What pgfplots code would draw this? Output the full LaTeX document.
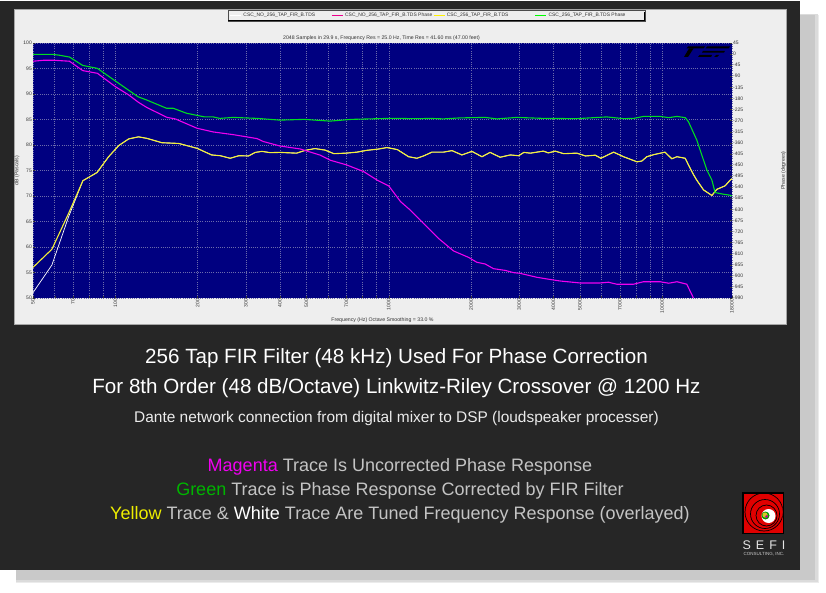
\documentclass[border=0pt]{standalone}
\usepackage{fontspec}
\setmainfont{Liberation Sans}
\usepackage{pgfplots}
\usepackage{pgfplotstable}
\pgfplotsset{compat=1.18}

\definecolor{panel}{HTML}{262626}
\definecolor{plotbg}{HTML}{000080}
\definecolor{page}{HTML}{EEEEEE}
\definecolor{gridc}{HTML}{6C6CAC}
\definecolor{labc}{HTML}{333333}
\definecolor{capc}{HTML}{C4C4C4}
\definecolor{tmag}{HTML}{F000F0}
\definecolor{tgrn}{HTML}{00B400}
\definecolor{tyel}{HTML}{EEEE00}
\definecolor{tryel}{HTML}{F4F038}
\definecolor{trgrn}{HTML}{00DC20}

% frequency response (dB), the two traces coincide above about 70 Hz
\pgfplotstableread{
f y w
50 56.0 51.05
58.6 59.55 56.45
67.5 66.6 65.95
76.1 73.0 73.0
85.7 74.6 74.6
94.5 77.7 77.7
103 79.9 79.9
112 81.2 81.2
121.6 81.6 81.6
130.5 81.3 81.3
148 80.45 80.45
170.7 80.3 80.3
199 79.35 79.35
225 78.05 78.05
242 77.9 77.9
263 77.4 77.4
283 77.9 77.9
307 77.85 77.85
325 78.55 78.55
344 78.75 78.75
368 78.5 78.5
400 78.55 78.55
460 78.4 78.4
495 78.95 78.95
537 79.3 79.3
585 79.0 79.0
630 78.3 78.3
697 78.4 78.4
765 78.6 78.6
830 78.95 78.95
915 79.2 79.2
985 79.5 79.5
1075 79.1 79.1
1182 77.7 77.7
1267 77.4 77.4
1340 77.85 77.85
1438 78.6 78.6
1586 78.6 78.6
1703 78.9 78.9
1851 78.05 78.05
2014 78.75 78.75
2192 77.7 77.7
2347 78.55 78.55
2554 77.6 77.6
2783 78.05 78.05
2985 77.9 77.9
3120 78.55 78.55
3295 78.4 78.4
3678 78.8 78.8
3835 78.45 78.45
4060 78.8 78.8
4360 78.3 78.3
4877 78.4 78.4
5240 77.85 77.85
5690 78.0 78.0
5967 77.4 77.4
6640 78.6 78.6
7224 77.7 77.7
8090 76.7 76.7
8420 76.85 76.85
8780 77.7 77.7
9300 78.1 78.1
10240 78.6 78.6
10840 77.3 77.3
11321 77.7 77.7
12136 77.4 77.4
12470 76.1 76.1
13010 74.2 74.2
13380 73.1 73.1
14160 71.2 71.2
15190 70.1 70.1
15830 71.3 71.3
16990 72.0 72.0
17720 73.1 73.1
18000 73.4 73.4
}\tdsdb

% phase traces (degrees)
\pgfplotstableread{
f p
50 -29
54.7 -25
59.5 -25
68 -29
76 -67
86 -78
100 -132
112 -166
121.6 -196
130.5 -217
154.6 -257
165.6 -263
199 -301
228 -316
270 -327
330 -343
348 -355
400 -373
474 -385
561 -410
612 -431
702 -450
810 -477
905 -511
1000 -535
1105 -599
1198 -633
1321 -680
1520 -748
1725 -799
1957 -825
2100 -845
2252 -852
2416 -871
2666 -878
2860 -887
3026 -890
3482 -906
4006 -917
4234 -921
5006 -929
5933 -929
6361 -926
6816 -934
7859 -934
8542 -924
9824 -924
10566 -930
11321 -924
12300 -934
13010 -990
}\phaseno

\pgfplotstableread{
f p
50 -1
58.6 -1
62 -4
68 -12
76 -46
86 -58
100 -109
121 -173
130 -186
154 -220
163 -220
182 -240
212 -255
228 -255
241 -261
270 -257
330 -261
400 -268
490 -265
610 -272
730 -265
1000 -261
1100 -261
1198 -262
1304 -262
1417 -261
1586 -263
1825 -259
2252 -257
2486 -263
2941 -257
3678 -261
4877 -262
6266 -255
7224 -262
7859 -261
8542 -253
9824 -253
10566 -258
11321 -253
12136 -258
12470 -274
13380 -349
14560 -470
15190 -511
15610 -562
16600 -568
17720 -573
18000 -576
}\phasefir

\newcommand{\legtext}[2][85pt]{\makebox[#1][l]{#2}}

\begin{document}
\begin{tikzpicture}[x=1pt,y=1pt]
  \path[use as bounding box] (0,0) rectangle (826,592);
  \fill[white] (0,0) rectangle (826,592);
  % soft shadow and dark slide
  \fill[black!8] (16,9) rectangle (819,577);
  \fill[black!14] (16,10) rectangle (818,578);
  \fill[black!21] (16,12) rectangle (815,577);
  \fill[panel] (0,22) rectangle (800,591);
  \fill[page] (14,268) rectangle (786,583);
  \draw[black!35, line width=.4pt] (14,268) rectangle (786,583);

  \begin{axis}[
    at={(33pt,294pt)}, anchor=south west,
    scale only axis, width=699pt, height=255pt,
    xmode=log, xmin=50, xmax=18000,
    tick label style={font=\fontsize{5}{6}\selectfont, text=labc, inner sep=1pt},
    /pgf/number format/assume math mode=true,
    tick style={labc, line width=.3pt},
    major tick length=2pt,
    axis line style={draw=none},
    axis background/.style={fill=plotbg},
    ymin=50, ymax=100, ytick distance=5,
    xtick={50,60,70,80,90,100,200,300,400,500,600,700,800,900,1000,2000,3000,4000,5000,6000,7000,8000,9000,10000,18000},
    xticklabels={50,,70,,,100,200,300,400,500,,700,,,1000,2000,3000,4000,5000,,7000,,,10000,18000},
    xticklabel style={rotate=90, anchor=east},
    minor x tick num=0,
    axis x line*=bottom, axis y line*=left,
    grid=major,
    grid style={gridc, line width=.4pt, dash pattern=on 1pt off 1.2pt},
    title={2048 Samples in 29.9 s, Frequency Res = 25.0 Hz, Time Res = 41.60 ms (47.00 feet)},
    title style={font=\fontsize{5.2}{6}\selectfont, text=labc, at={(rel axis cs:0.5,1)}, anchor=south, yshift=-7.5pt, xshift=-1pt},
    xlabel={Frequency (Hz) Octave Smoothing = 33.0 \%},
    xlabel style={font=\fontsize{5.2}{6}\selectfont, text=labc, at={(rel axis cs:0.5,0)}, anchor=north, yshift=-16.5pt},
    ylabel={dB (Pascals)},
    ylabel style={font=\fontsize{5.2}{6}\selectfont, text=labc, at={(rel axis cs:0,0.5)}, anchor=south, yshift=10pt},
  ]
    \addplot[white, line width=.7pt] table[x=f, y=w] {\tdsdb};
    \addplot[tryel, line width=1.1pt] table[x=f, y=y] {\tdsdb};
  \end{axis}

  \begin{axis}[
    at={(33pt,294pt)}, anchor=south west,
    scale only axis, width=699pt, height=255pt,
    xmode=log, xmin=50, xmax=18000,
    tick label style={font=\fontsize{5}{6}\selectfont, text=labc, inner sep=1pt},
    /pgf/number format/assume math mode=true,
    tick style={labc, line width=.3pt},
    major tick length=2pt,
    axis line style={draw=none},
    ymin=-990, ymax=45, ytick distance=45,
    axis y line*=right, axis x line=none,
    yticklabel style={anchor=west},
    ylabel={Phase (degrees)},
    ylabel style={font=\fontsize{5.2}{6}\selectfont, text=labc, at={(rel axis cs:1,0.5)}, anchor=north, yshift=-45.5pt},
    legend columns=4,
    legend style={at={(rel axis cs:0,1)}, anchor=south west, xshift=195pt, yshift=22pt,
      fill=page, draw=black!70, line width=.5pt, font=\fontsize{4.95}{6}\selectfont, text=labc,
      inner xsep=1.5pt, inner ysep=.9pt, row sep=0pt,
      /tikz/every even column/.style={column sep=1pt}},
    legend cell align=left,
  ]
    \addplot[color=tmag, line width=1.1pt, forget plot] table[x=f, y=p] {\phaseno};
    \addplot[color=trgrn, line width=1.1pt, forget plot] table[x=f, y=p] {\phasefir};
    \addlegendimage{legend image code/.code={\draw[draw=white, line width=.7pt] (0pt,0pt) -- (11pt,0pt);}}
    \addlegendentry{\legtext{CSC\_NO\_256\_TAP\_FIR\_B.TDS}}
    \addlegendimage{legend image code/.code={\draw[draw=magenta, line width=.7pt] (0pt,0pt) -- (11pt,0pt);}}
    \addlegendentry{\legtext{CSC\_NO\_256\_TAP\_FIR\_B.TDS Phase}}
    \addlegendimage{legend image code/.code={\draw[draw=yellow, line width=.7pt] (0pt,0pt) -- (11pt,0pt);}}
    \addlegendentry{\legtext{CSC\_256\_TAP\_FIR\_B.TDS}}
    \addlegendimage{legend image code/.code={\draw[draw=green, line width=.7pt] (0pt,0pt) -- (11pt,0pt);}}
    \addlegendentry{\legtext[93.5pt]{CSC\_256\_TAP\_FIR\_B.TDS Phase}}
  \end{axis}
  \draw[black, line width=1pt] (644,580) -- (644,571) -- (228,571);

  % TEF mark
  \fill[black] (688,545.5) -- (705,545.5) -- (703.5,543.5) -- (686.5,543.5) -- cycle;
  \fill[black] (689,543.5) -- (693.5,543.5) -- (688,535) -- (684,535) -- cycle;
  \fill[black] (707,545.5) -- (730,545.5) -- (728.5,543.5) -- (705.5,543.5) -- cycle;
  \fill[black] (703,541.2) -- (725,541.2) -- (724,539.4) -- (702,539.4) -- cycle;
  \fill[black] (699.5,537) -- (712,537) -- (711,535) -- (698,535) -- cycle;
  \fill[black] (716,537) -- (719,537) -- (717,535) -- (714,535) -- cycle;

  % caption lines
  \node[white] at (396.5,233.5) {\fontsize{20.6}{24}\selectfont 256 Tap FIR Filter (48 kHz) Used For Phase Correction};
  \node[white] at (396.5,203.5) {\fontsize{20.6}{24}\selectfont For 8th Order (48 dB/Octave) Linkwitz-Riley Crossover @ 1200 Hz};
  \node[white!92!black] at (396.5,173) {\fontsize{15.45}{18}\selectfont Dante network connection from digital mixer to DSP (loudspeaker processer)};
  \node[capc] at (400,125.5) {\fontsize{18}{21}\selectfont \textcolor{tmag}{Magenta} Trace Is Uncorrected Phase Response};
  \node[capc] at (400,101.5) {\fontsize{18}{21}\selectfont \textcolor{tgrn}{Green} Trace is Phase Response Corrected by FIR Filter};
  \node[capc] at (400,77.5) {\fontsize{18}{21}\selectfont \textcolor{tyel}{Yellow} Trace \& \textcolor{white}{White} Trace Are Tuned Frequency Response (overlayed)};

  % SEFI logo
  \fill[black] (742,58) rectangle (784,100);
  \fill[red!88!black] (743.5,59.5) rectangle (782.5,98.5);
  \begin{scope}
    \clip (743.5,59.5) rectangle (782.5,98.5);
    \draw[black, line width=.7pt] (764,80) circle (19);
    \draw[black, line width=.7pt] (765,78) circle (14.5);
    \draw[black, line width=.7pt] (766.5,76.5) circle (10.5);
  \end{scope}
  \fill[white] (768.5,76) circle (7);
  \fill[green!60!black] (765.5,76.5) circle (4);
  \fill[yellow!80!black] (765,77) circle (2.6);
  \fill[magenta!70!blue] (766.5,75.5) circle (1.5);
  \node[white!90!black] at (764,47) {\fontsize{12.5}{14}\selectfont S\hspace{5pt}E\hspace{5pt}F\hspace{5pt}I};
  \node[white!80!black] at (764,37.3) {\fontsize{4.5}{5}\selectfont CONSULTING, INC.};
\end{tikzpicture}
\end{document}
